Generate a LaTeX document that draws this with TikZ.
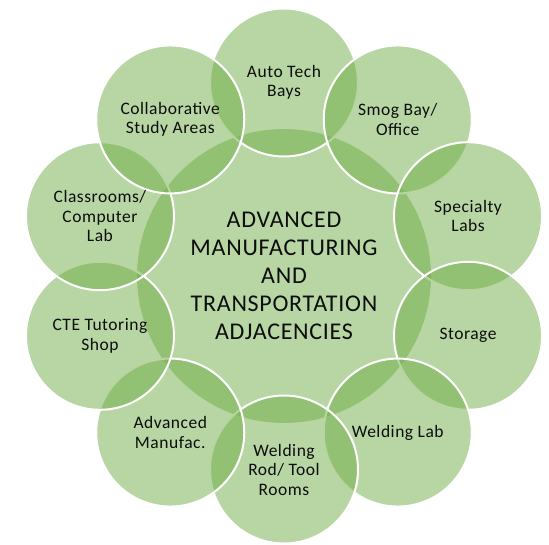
\documentclass[tikz,border=0pt]{standalone}
\usepackage{fontspec}
\setmainfont{Carlito}[LetterSpace=3]
\definecolor{accentgreen}{HTML}{70AD47}
\definecolor{labelink}{HTML}{0D0D0D}
\tikzset{
  hubdisc/.style={circle, inner sep=0pt, minimum size=294pt, fill=accentgreen, fill opacity=0.5, draw=none},
  satdisc/.style={circle, inner sep=0pt, minimum size=148pt, fill=accentgreen, fill opacity=0.5, draw=white, draw opacity=1, line width=2pt},
  hublabel/.style={align=center, text=labelink, font=\fontsize{24}{28}\selectfont},
  satlabel/.style={align=center, text=labelink, font=\fontsize{17.5}{19.5}\selectfont}
}
\begin{document}
\begin{tikzpicture}[x=1pt,y=-1pt]
\useasboundingbox (0,0) rectangle (549,545);
\coordinate (hub) at (284,276);
\node[hubdisc] (hubc) at (hub) {};
\foreach \i in {0,...,9}{
  \node[satdisc] (s\i) at ({284+193.5*sin(36*\i)},{276-193.5*cos(36*\i)}) {};
}
\node[hublabel] (hubt) at (hubc) {ADVANCED\\MANUFACTURING\\AND\\TRANSPORTATION\\ADJACENCIES};
\node[satlabel] (t0) at (s0) {Auto Tech\\Bays};
\node[satlabel] (t1) at (s1) {Smog Bay/\\Office};
\node[satlabel] (t2) at (s2) {Specialty\\Labs};
\node[satlabel] (t3) at (s3) {Storage};
\node[satlabel] (t4) at (s4) {Welding Lab};
\node[satlabel] (t5) at (s5) {Welding\\Rod/ Tool\\Rooms};
\node[satlabel] (t6) at (s6) {Advanced\\Manufac.};
\node[satlabel] (t7) at (s7) {CTE Tutoring\\Shop};
\node[satlabel] (t8) at (s8) {Classrooms/\\Computer\\Lab};
\node[satlabel] (t9) at (s9) {Collaborative\\Study Areas};
\end{tikzpicture}
\end{document}
